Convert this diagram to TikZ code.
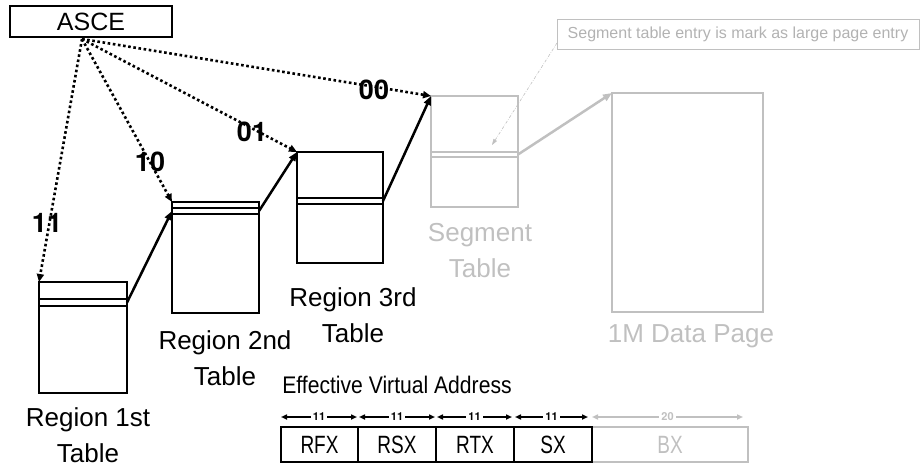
\documentclass[tikz,border=0pt]{standalone}
\usepackage{fontspec}
\setmainfont{Liberation Sans}
\newfontfamily\heavysans{texgyreheros-bold.otf}
\newfontfamily\narrowsans{Liberation Sans}[FakeStretch=0.76]
\newfontfamily\captionsans{Liberation Sans}[FakeStretch=0.88]
\usetikzlibrary{arrows.meta}
\definecolor{faded}{RGB}{192,192,192}
\definecolor{notegray}{RGB}{178,178,178}

\begin{document}
\begin{tikzpicture}[x=1pt,y=-1pt,
  tbl/.style={draw, line width=2.5pt, inner sep=0pt, outer sep=0pt, anchor=north west},
  fadedtbl/.style={tbl, draw=faded},
  band/.style={line width=2.5pt},
  lbl/.style={inner sep=0pt, align=center, font=\fontsize{26}{36}\selectfont},
  bitlbl/.style={inner sep=0pt, font=\heavysans\fontsize{27}{30}\selectfont},
  ptr/.style={line width=2.6pt, dash pattern=on 2.6pt off 2.6pt, -{Triangle[length=8pt,width=7pt]}},
  link/.style={line width=2.5pt, -{Triangle[length=9pt,width=7pt]}},
  field/.style={draw, line width=2.8pt, inner sep=0pt, outer sep=0pt, anchor=north west,
                minimum height=35pt, font=\narrowsans\fontsize{25}{30}\selectfont},
  span/.style={line width=1.8pt, {Triangle[length=6pt,width=5pt]}-{Triangle[length=6pt,width=5pt]}},
  spanlbl/.style={fill=white, inner sep=2pt, font=\heavysans\fontsize{11}{12}\selectfont}
]
\useasboundingbox (0,0) rectangle (920,473);

% address space control element
\node[tbl, minimum width=162pt, minimum height=31pt, font=\fontsize{25}{30}\selectfont]
  (asce) at (10,6) {ASCE};
\coordinate (src) at (82,39);

% translation tables
\node[tbl, minimum width=88pt, minimum height=111pt] (r1) at (39,282) {};
\node[tbl, minimum width=87pt, minimum height=111pt] (r2) at (172,202) {};
\node[tbl, minimum width=86pt, minimum height=111pt] (r3) at (297,152) {};
\node[fadedtbl, minimum width=87pt, minimum height=111pt] (seg) at (431,96) {};
\node[fadedtbl, minimum width=151pt, minimum height=219pt] (page) at (612,93) {};

% selected entries
\draw[band] ([yshift=-17pt]r1.north west) -- ([yshift=-17pt]r1.north east);
\draw[band] ([yshift=-24pt]r1.north west) -- ([yshift=-24pt]r1.north east);
\draw[band] ([yshift=-6pt]r2.north west) -- ([yshift=-6pt]r2.north east);
\draw[band] ([yshift=-12pt]r2.north west) -- ([yshift=-12pt]r2.north east);
\draw[band] ([yshift=-46pt]r3.north west) -- ([yshift=-46pt]r3.north east);
\draw[band] ([yshift=-52pt]r3.north west) -- ([yshift=-52pt]r3.north east);
\draw[band, faded] ([yshift=-56pt]seg.north west) -- ([yshift=-56pt]seg.north east);
\draw[band, faded] ([yshift=-61pt]seg.north west) -- ([yshift=-61pt]seg.north east);

\coordinate (r1e) at ([yshift=-20.5pt]r1.north east);
\coordinate (r2w) at ([yshift=-9pt]r2.north west);
\coordinate (r2e) at ([yshift=-9pt]r2.north east);
\coordinate (r3e) at ([yshift=-49pt]r3.north east);
\coordinate (sege) at ([yshift=-58.5pt]seg.north east);

% table captions
\node[lbl] (r1lbl) at (88,435) {Region 1st\\Table};
\node[lbl] (r2lbl) at (225,358) {Region 2nd\\Table};
\node[lbl] (r3lbl) at (353,315) {Region 3rd\\Table};
\node[lbl, text=faded] (seglbl) at (480,251) {Segment\\Table};
\node[lbl, text=faded] (pagelbl) at (691,336) {1M Data Page};

% designation type pointers from the ASCE
\draw[ptr] (src) -- (r1.north west);
\draw[ptr] (src) -- (r2.north west);
\draw[ptr] (src) -- (r3.north west);
\draw[ptr] (src) -- (seg.north west);
\node[bitlbl] (b11) at (47,223) {11};
\node[bitlbl] (b10) at (150,162) {10};
\node[bitlbl] (b01) at (252,132) {01};
\node[bitlbl] (b00) at (374,90) {00};

% table walk
\draw[link] (r1e) -- (r2w);
\draw[link] (r2e) -- (r3.north west);
\draw[link] (r3e) -- (seg.north west);
\draw[link, faded] (sege) -- (page.north west);

% large page note
\node[draw=faded, line width=0.8pt, inner sep=0pt, outer sep=0pt, anchor=north west,
      minimum width=362pt, minimum height=30pt, text=notegray,
      font=\fontsize{16}{18}\selectfont] (note) at (557,19)
  {Segment table entry is mark as large page entry};
\coordinate (notept) at ([yshift=6pt]note.south west);
\coordinate (entry) at (492,145);
\draw[faded, line width=0.6pt, dash pattern=on 3pt off 1.5pt on 0.6pt off 1.5pt,
      -{Triangle[length=6pt,width=4pt]}] (notept) -- (entry);

% effective virtual address layout
\node[inner sep=0pt, font=\captionsans\fontsize{24}{28}\selectfont] (eva) at (397,385) {Effective Virtual Address};
\node[field, draw=faded, text=faded, minimum width=156pt] (bx) at (592,427) {BX};
\node[field, minimum width=77pt] (rfx) at (281,427) {RFX};
\node[field, minimum width=78pt] (rsx) at (358,427) {RSX};
\node[field, minimum width=78pt] (rtx) at (436,427) {RTX};
\node[field, minimum width=78pt] (sx) at (514,427) {SX};

\coordinate (a1) at (281,417); \coordinate (a2) at (357,417);
\coordinate (b1) at (359,417); \coordinate (b2) at (435,417);
\coordinate (c1) at (437,417); \coordinate (c2) at (512,417);
\coordinate (d1) at (515,417); \coordinate (d2) at (588,417);
\coordinate (e1) at (592,417); \coordinate (e2) at (743,417);
\draw[span] (a1) -- node[spanlbl] {11} (a2);
\draw[span] (b1) -- node[spanlbl] {11} (b2);
\draw[span] (c1) -- node[spanlbl] {11} (c2);
\draw[span] (d1) -- node[spanlbl] {11} (d2);
\draw[span, faded] (e1) -- node[spanlbl, text=faded] {20} (e2);
\end{tikzpicture}
\end{document}
